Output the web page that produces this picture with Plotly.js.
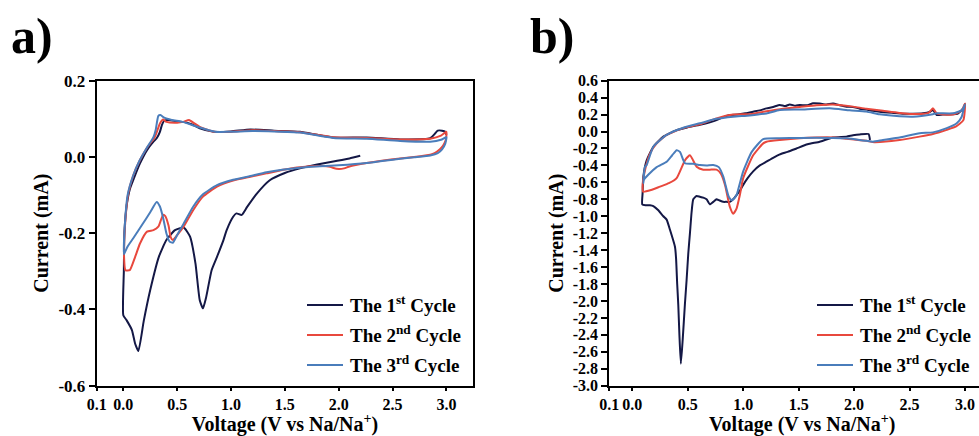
<!DOCTYPE html>
<html>
<head>
<meta charset="utf-8">
<script src="https://cdn.plot.ly/plotly-3.0.1.min.js"></script>
<style>
html,body{margin:0;padding:0;overflow:hidden;background:#fff;width:979px;height:436px;}
#chart{width:1000px;height:436px;}
</style>
</head>
<body>
<div id="chart"></div>
<script>
// ---------- Panel a) data ----------
const aCycle1V = [2.20,2.10,1.95,1.80,1.64,1.50,1.36,1.24,1.15,1.10,1.05,1.02,0.96,0.93,0.87,0.82,0.77,0.74,0.71,0.67,0.62,0.56,0.48,0.40,0.33,0.25,0.19,0.14,0.11,0.08,0.03,0.00,
  0.005,0.01,0.03,0.06,0.10,0.155,0.22,0.28,0.31,0.34,0.36,0.38,0.42,0.50,0.56,0.64,0.71,0.84,1.00,1.18,1.40,1.64,1.80,1.95,2.26,2.57,2.85,2.89,2.92,2.96,2.99,3.00];
const aCycle1I = [0.003,-0.004,-0.012,-0.020,-0.030,-0.042,-0.061,-0.096,-0.131,-0.152,-0.148,-0.157,-0.192,-0.218,-0.262,-0.297,-0.367,-0.397,-0.376,-0.279,-0.209,-0.185,-0.192,-0.218,-0.262,-0.349,-0.430,-0.509,-0.490,-0.454,-0.428,-0.415,
  -0.300,-0.200,-0.130,-0.085,-0.055,-0.017,0.018,0.040,0.049,0.066,0.085,0.095,0.097,0.093,0.092,0.085,0.075,0.066,0.067,0.072,0.069,0.066,0.058,0.051,0.051,0.046,0.049,0.060,0.069,0.069,0.066,0.058];

const aCycle2V = [3.00,2.995,2.97,2.94,2.89,2.85,2.70,2.57,2.40,2.26,2.10,2.05,1.98,1.92,1.85,1.64,1.50,1.33,1.18,1.02,0.87,0.74,0.65,0.56,0.50,0.46,0.44,0.42,0.39,0.37,0.35,0.325,0.28,0.22,0.155,0.11,0.06,0.02,0.007,
  0.016,0.046,0.093,0.155,0.217,0.294,0.34,0.37,0.40,0.50,0.557,0.61,0.66,0.71,0.84,1.00,1.20,1.40,1.64,1.95,2.26,2.57,2.85,2.95,3.00];
const aCycle2I = [0.066,0.045,0.030,0.020,0.010,0.006,0.000,-0.004,-0.010,-0.016,-0.025,-0.030,-0.031,-0.026,-0.024,-0.027,-0.033,-0.043,-0.052,-0.062,-0.078,-0.104,-0.139,-0.183,-0.205,-0.218,-0.210,-0.180,-0.155,-0.152,-0.165,-0.183,-0.192,-0.196,-0.227,-0.262,-0.297,-0.297,-0.262,
  -0.180,-0.096,-0.048,-0.008,0.023,0.053,0.088,0.098,0.092,0.090,0.092,0.097,0.088,0.079,0.066,0.066,0.070,0.068,0.065,0.052,0.050,0.046,0.048,0.056,0.066];

const aCycle3V = [3.00,2.99,2.96,2.92,2.85,2.70,2.57,2.26,2.00,1.64,1.33,1.18,1.02,0.87,0.74,0.65,0.56,0.50,0.46,0.43,0.40,0.37,0.34,0.31,0.25,0.17,0.10,0.04,0.015,0.005,
  0.01,0.04,0.09,0.15,0.22,0.28,0.30,0.315,0.325,0.345,0.38,0.45,0.55,0.70,0.85,1.00,1.20,1.40,1.64,1.95,2.26,2.57,2.85,2.95,3.00];
const aCycle3I = [0.052,0.035,0.020,0.010,0.004,-0.001,-0.005,-0.016,-0.022,-0.028,-0.040,-0.050,-0.060,-0.074,-0.098,-0.130,-0.175,-0.205,-0.225,-0.222,-0.200,-0.160,-0.130,-0.118,-0.145,-0.180,-0.210,-0.235,-0.250,-0.255,
  -0.200,-0.100,-0.050,-0.010,0.025,0.052,0.070,0.095,0.108,0.110,0.103,0.097,0.092,0.078,0.066,0.066,0.068,0.067,0.064,0.050,0.048,0.042,0.040,0.045,0.052];

// ---------- Panel b) data ----------
const bCycle1V = [2.143,2.13,2.05,1.99,1.93,1.81,1.69,1.58,1.48,1.40,1.33,1.27,1.21,1.15,1.09,1.04,1.00,0.97,0.94,0.91,0.88,0.85,0.82,0.78,0.76,0.73,0.70,0.67,0.64,0.61,0.58,0.55,0.535,0.52,0.505,0.49,0.475,0.455,0.438,0.425,0.415,0.405,0.395,0.385,0.34,0.31,0.28,0.235,0.19,0.16,0.12,0.09,
  0.093,0.10,0.13,0.19,0.28,0.40,0.50,0.61,0.70,0.76,0.82,0.88,0.95,1.02,1.09,1.15,1.21,1.27,1.33,1.38,1.42,1.47,1.51,1.58,1.63,1.69,1.75,1.81,1.87,1.93,1.99,2.05,2.11,2.17,2.23,2.35,2.45,2.53,2.62,2.68,2.71,2.745,2.80,2.89,2.93,2.97,2.99,3.00];
const bCycle1I = [-0.10,-0.03,-0.035,-0.045,-0.06,-0.07,-0.12,-0.15,-0.20,-0.24,-0.27,-0.31,-0.356,-0.40,-0.47,-0.55,-0.63,-0.70,-0.75,-0.80,-0.83,-0.83,-0.83,-0.81,-0.80,-0.83,-0.86,-0.80,-0.78,-0.77,-0.76,-0.80,-0.95,-1.20,-1.44,-1.75,-2.03,-2.45,-2.74,-2.40,-2.05,-1.80,-1.50,-1.36,-1.16,-1.04,-1.00,-0.93,-0.88,-0.87,-0.87,-0.86,
  -0.73,-0.53,-0.34,-0.18,-0.06,0.017,0.05,0.080,0.11,0.135,0.17,0.195,0.20,0.215,0.234,0.25,0.273,0.29,0.313,0.30,0.32,0.305,0.313,0.31,0.333,0.33,0.32,0.33,0.31,0.293,0.29,0.27,0.26,0.245,0.234,0.22,0.21,0.21,0.215,0.23,0.254,0.195,0.20,0.203,0.21,0.254,0.28,0.33];

const bCycle2V = [3.00,2.985,2.92,2.835,2.71,2.59,2.41,2.26,2.17,2.11,1.93,1.81,1.51,1.33,1.21,1.18,1.09,1.00,0.97,0.94,0.91,0.88,0.836,0.80,0.76,0.70,0.64,0.58,0.52,0.475,0.40,0.33,0.25,0.17,0.099,0.093,
  0.114,0.16,0.22,0.31,0.46,0.61,0.76,0.91,1.06,1.21,1.36,1.51,1.66,1.81,1.96,2.11,2.26,2.41,2.56,2.67,2.71,2.745,2.89,2.97,3.00];
const bCycle2I = [0.33,0.135,0.06,0.02,-0.03,-0.06,-0.10,-0.12,-0.125,-0.11,-0.085,-0.07,-0.08,-0.10,-0.12,-0.14,-0.28,-0.55,-0.75,-0.91,-0.97,-0.89,-0.63,-0.50,-0.45,-0.45,-0.45,-0.415,-0.28,-0.34,-0.55,-0.61,-0.65,-0.69,-0.71,-0.65,
  -0.46,-0.26,-0.14,-0.04,0.040,0.085,0.155,0.20,0.205,0.24,0.27,0.29,0.31,0.32,0.30,0.27,0.245,0.22,0.206,0.22,0.274,0.215,0.20,0.25,0.33];

const bCycle3V = [3.00,2.985,2.97,2.925,2.835,2.71,2.59,2.41,2.26,2.17,2.11,1.93,1.81,1.51,1.33,1.18,1.077,1.00,0.97,0.94,0.91,0.896,0.87,0.82,0.78,0.73,0.67,0.61,0.55,0.475,0.43,0.40,0.36,0.31,0.22,0.144,0.105,0.099,
  0.114,0.13,0.19,0.31,0.46,0.61,0.76,0.91,1.06,1.21,1.33,1.51,1.78,1.96,2.11,2.23,2.41,2.53,2.71,2.745,2.89,2.97,2.985,3.00];
const bCycle3I = [0.32,0.25,0.175,0.097,0.04,-0.01,-0.02,-0.07,-0.10,-0.12,-0.11,-0.08,-0.075,-0.075,-0.08,-0.09,-0.24,-0.47,-0.61,-0.75,-0.80,-0.81,-0.77,-0.53,-0.42,-0.395,-0.40,-0.395,-0.38,-0.375,-0.24,-0.22,-0.28,-0.356,-0.42,-0.51,-0.57,-0.61,
  -0.42,-0.395,-0.18,-0.04,0.045,0.097,0.150,0.175,0.19,0.214,0.254,0.26,0.274,0.25,0.235,0.203,0.18,0.175,0.205,0.215,0.215,0.25,0.28,0.32];

// ---------- labels / styles ----------
const legendNames = ['The 1<sup>st</sup> Cycle','The 2<sup>nd</sup> Cycle','The 3<sup>rd</sup> Cycle'];
const colors = ['#141846','#e8483d','#4a7dbb'];
const aYTicks = [0.2,0.0,-0.2,-0.4,-0.6];
const aYTickText = ['0.2','0.0','-0.2','-0.4','-0.6'];
const xTickText = ['0.1','0.0','0.5','1.0','1.5','2.0','2.5','3.0'];
const bYTicks = [0.6,0.4,0.2,0.0,-0.2,-0.4,-0.6,-0.8,-1.0,-1.2,-1.4,-1.6,-1.8,-2.0,-2.2,-2.4,-2.6,-2.8,-3.0];
const bYTickText = bYTicks.map(v => v.toFixed(1));

// ---------- geometry (pixels) ----------
const W = 1000, H = 436;
const px = x => x / W, py = y => 1 - y / H;
const aXRange = [-0.247, 3.25], bXRange = [-0.207, 3.27];
const aXTicks = [aXRange[0], 0, 0.5, 1.0, 1.5, 2.0, 2.5, 3.0];
const bXTicks = [bXRange[0], 0, 0.5, 1.0, 1.5, 2.0, 2.5, 3.0];

const FONT = 'Liberation Serif, Times New Roman, serif';

function tr(x, y, i, xa, ya) {
  return {x: x, y: y, xaxis: xa, yaxis: ya, type: 'scatter', mode: 'lines',
    line: {color: colors[i], width: 2, shape: 'spline', smoothing: 0.5},
    name: legendNames[i], showlegend: false, hoverinfo: 'skip'};
}
const data = [
  tr(aCycle1V, aCycle1I, 0, 'x', 'y'),
  tr(aCycle2V, aCycle2I, 1, 'x', 'y'),
  tr(aCycle3V, aCycle3I, 2, 'x', 'y'),
  tr(bCycle1V, bCycle1I, 0, 'x2', 'y2'),
  tr(bCycle2V, bCycle2I, 1, 'x2', 'y2'),
  tr(bCycle3V, bCycle3I, 2, 'x2', 'y2')
];

const tickFont = {family: FONT, size: 17, color: '#000', weight: 'bold'};
const titleFont = {family: FONT, size: 20, color: '#000', weight: 'bold'};
function xAxis(range, ticks, dom, anchor) {
  return {domain: dom, range: range, anchor: anchor, tickmode: 'array', tickvals: ticks, ticktext: xTickText,
    showline: true, linecolor: '#000', linewidth: 2, mirror: true, ticks: 'outside', ticklen: 3, tickwidth: 2, tickcolor: '#000',
    showgrid: false, zeroline: false, tickfont: Object.assign({}, tickFont, {size: 16}), tickangle: 0, automargin: false,
    title: {text: 'Voltage (V vs Na/Na<sup>+</sup>)', font: titleFont, standoff: 7}};
}
function yAxis(range, ticks, text, dom, anchor, fs) {
  return {domain: dom, range: range, anchor: anchor, tickmode: 'array', tickvals: ticks, ticktext: text,
    showline: true, linecolor: '#000', linewidth: 2, mirror: true, ticks: 'outside', ticklen: 6, tickwidth: 2, tickcolor: '#000',
    showgrid: false, zeroline: false, tickfont: Object.assign({}, tickFont, {size: fs}), automargin: false,
    title: {text: 'Current (mA)', font: titleFont, standoff: 4}};
}
const yDom = [py(385.7), py(80.7)];

const shapes = [], annotations = [];
const legY = [305, 335, 365];
[[307, 343, 348], [817, 853, 858]].forEach(([x0, x1, xt]) => {
  legY.forEach((yy, i) => {
    shapes.push({type: 'line', xref: 'paper', yref: 'paper', x0: px(x0), x1: px(x1), y0: py(yy), y1: py(yy),
      line: {color: colors[i], width: 2}});
    annotations.push({xref: 'paper', yref: 'paper', x: px(xt), y: py(yy - 1), xanchor: 'left', yanchor: 'middle',
      text: legendNames[i], showarrow: false, font: {family: FONT, size: 19, color: '#000', weight: 'bold'}});
  });
});
annotations.push({xref: 'paper', yref: 'paper', x: px(32), y: py(36), xanchor: 'center', yanchor: 'middle',
  text: 'a)', showarrow: false, font: {family: FONT, size: 50, color: '#000', weight: 'bold'}});
annotations.push({xref: 'paper', yref: 'paper', x: px(552), y: py(36), xanchor: 'center', yanchor: 'middle',
  text: 'b)', showarrow: false, font: {family: FONT, size: 50, color: '#000', weight: 'bold'}});

const layout = {
  width: W, height: H, margin: {l: 0, r: 0, t: 0, b: 0, pad: 0},
  paper_bgcolor: '#fff', plot_bgcolor: '#fff', showlegend: false,
  font: {family: FONT, color: '#000'},
  xaxis: xAxis(aXRange, aXTicks, [px(96.7), px(473.3)], 'y'),
  yaxis: yAxis([-0.6, 0.2], aYTicks, aYTickText, yDom, 'x', 17),
  xaxis2: xAxis(bXRange, bXTicks, [px(609.3), px(995)], 'y2'),
  yaxis2: yAxis([-3.0, 0.6], bYTicks, bYTickText, yDom, 'x2', 16),
  shapes: shapes, annotations: annotations
};
Plotly.newPlot('chart', data, layout, {displayModeBar: false, staticPlot: true});
</script>
</body>
</html>
